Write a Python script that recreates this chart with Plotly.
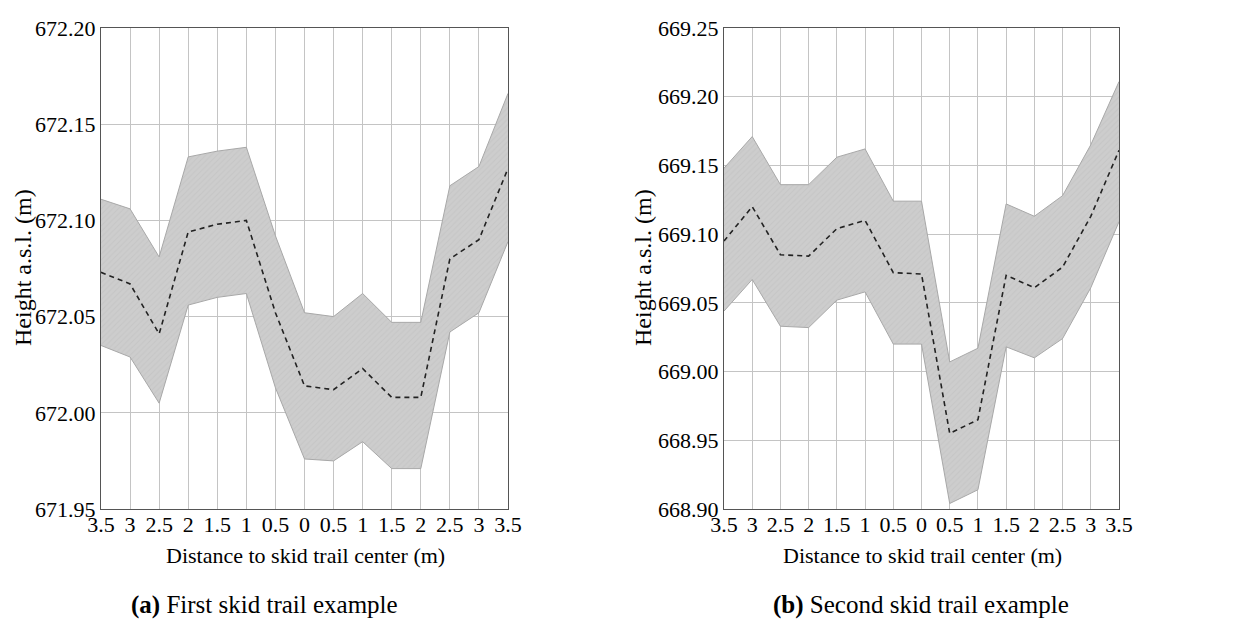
import plotly.graph_objects as go

tick_labels = ["3.5", "3", "2.5", "2", "1.5", "1", "0.5", "0", "0.5", "1", "1.5", "2", "2.5", "3", "3.5"]
positions = list(range(len(tick_labels)))

a_mean = [672.073, 672.067, 672.041, 672.094, 672.098, 672.100, 672.052, 672.014,
          672.012, 672.023, 672.008, 672.008, 672.080, 672.090, 672.127]
a_upper = [672.111, 672.106, 672.081, 672.133, 672.136, 672.138, 672.092, 672.052,
           672.050, 672.062, 672.047, 672.047, 672.118, 672.128, 672.166]
a_lower = [672.035, 672.029, 672.005, 672.056, 672.060, 672.062, 672.013, 671.976,
           671.975, 671.985, 671.971, 671.971, 672.042, 672.052, 672.089]

b_mean = [669.095, 669.120, 669.085, 669.084, 669.104, 669.110, 669.072, 669.071,
          668.955, 668.965, 669.070, 669.061, 669.076, 669.113, 669.161]
b_upper = [669.148, 669.171, 669.136, 669.136, 669.156, 669.162, 669.124, 669.124,
           669.007, 669.017, 669.122, 669.113, 669.128, 669.165, 669.211]
b_lower = [669.044, 669.067, 669.033, 669.032, 669.052, 669.058, 669.020, 669.020,
           668.904, 668.914, 669.018, 669.010, 669.024, 669.061, 669.109]

a_yticks = [671.95, 672.00, 672.05, 672.10, 672.15, 672.20]
b_yticks = [668.90, 668.95, 669.00, 669.05, 669.10, 669.15, 669.20, 669.25]

x_title = "Distance to skid trail center (m)"
y_title = "Height a.s.l. (m)"
captions = ["<b>(a)</b> First skid trail example", "<b>(b)</b> Second skid trail example"]

FONT = "Liberation Serif"

fig = go.Figure()


def add_panel(xa, ya, mean, upper, lower):
    fig.add_trace(go.Scatter(x=positions, y=lower, mode="lines", xaxis=xa, yaxis=ya,
                             line=dict(color="#a8a8a8", width=1), showlegend=False,
                             hoverinfo="skip"))
    fig.add_trace(go.Scatter(x=positions, y=upper, mode="lines", xaxis=xa, yaxis=ya,
                             line=dict(color="#a8a8a8", width=1), fill="tonexty",
                             fillcolor="#cccccc",
                             fillpattern=dict(shape="/", bgcolor="#cdcdcd", fgcolor="#bcbcbc",
                                              size=4, solidity=0.25),
                             showlegend=False, hoverinfo="skip"))
    fig.add_trace(go.Scatter(x=positions, y=mean, mode="lines", xaxis=xa, yaxis=ya,
                             line=dict(color="#222222", width=1.6, dash="5px,4px"),
                             showlegend=False))


add_panel("x", "y", a_mean, a_upper, a_lower)
add_panel("x2", "y2", b_mean, b_upper, b_lower)

# page body adds an 8px margin, so the figure is drawn offset by (8, 8)
OFF = 8
W, H = 1234 - OFF, 622 - OFF


def px(x):
    return (x - OFF) / W


def py(y):
    return 1 - (y - OFF) / H


ydom = [py(509), py(28)]

xcommon = dict(tickmode="array", tickvals=positions, ticktext=tick_labels,
               range=[0, len(positions) - 1], showgrid=True, gridcolor="#c4c4c4", gridwidth=1,
               showline=True, linecolor="#555555", linewidth=1.2, mirror=True,
               ticks="", zeroline=False, automargin=False, ticklabelstandoff=-5,
               tickfont=dict(family=FONT, size=22, color="black"))
ycommon = dict(showgrid=True, gridcolor="#c4c4c4", gridwidth=1,
               showline=True, linecolor="#555555", linewidth=1.2, mirror=True,
               ticks="", zeroline=False, tickformat=".2f", automargin=False,
               tickfont=dict(family=FONT, size=22, color="black"))


def ann(text, x, y, size, angle=0):
    return dict(text=text, x=px(x), y=py(y), xref="paper", yref="paper", showarrow=False,
                xanchor="center", yanchor="middle", textangle=angle,
                font=dict(family=FONT, size=size, color="black"))


fig.update_layout(
    width=W, height=H,
    margin=dict(l=0, r=0, t=0, b=0),
    paper_bgcolor="white", plot_bgcolor="white",
    xaxis=dict(domain=[px(101), px(508)], anchor="y", **xcommon),
    yaxis=dict(domain=ydom, anchor="x", range=[671.95, 672.20], tickvals=a_yticks, **ycommon),
    xaxis2=dict(domain=[px(724), px(1119)], anchor="y2", **xcommon),
    yaxis2=dict(domain=ydom, anchor="x2", range=[668.90, 669.25], tickvals=b_yticks, **ycommon),
    annotations=[
        ann(x_title, 305, 555, 22),
        ann(x_title, 922, 555, 22),
        ann(y_title, 23, 268, 24, -90),
        ann(y_title, 643, 268, 24, -90),
        ann(captions[0], 264, 605, 25),
        ann(captions[1], 921, 605, 25),
    ],
)

fig.write_html("out.html")
